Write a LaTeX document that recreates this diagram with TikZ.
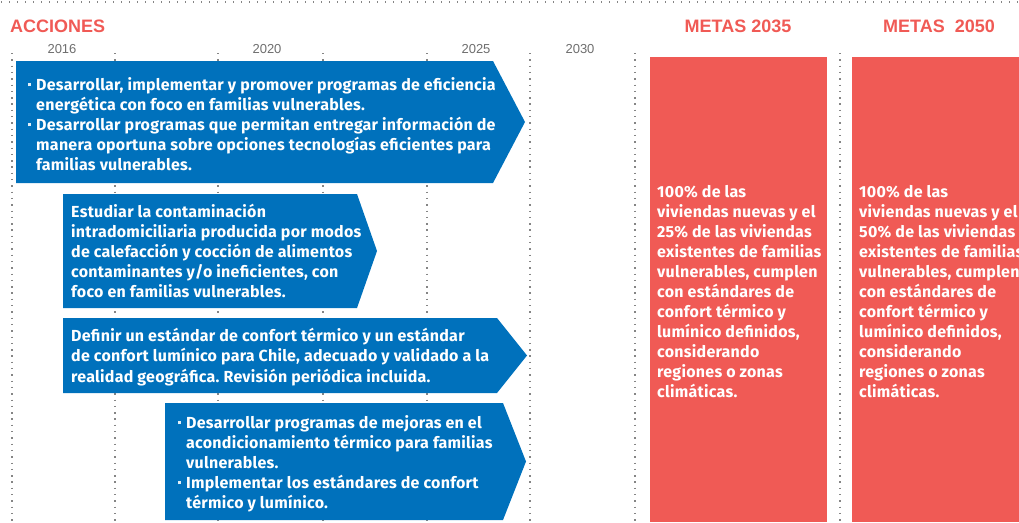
\documentclass[tikz,border=0pt]{standalone}
\usepackage{fontspec}
\setmainfont{Fira Sans}[LetterSpace=1.6]
\newfontfamily\arialf{Liberation Sans}
\definecolor{ablue}{HTML}{0071BC}
\definecolor{mred}{HTML}{F05A55}
\definecolor{ygray}{HTML}{6E6E6E}
\definecolor{dgray}{HTML}{858585}
\frenchspacing
\newcommand{\bul}{\llap{\textcolor{white!88!ablue}{\rule[3.6pt]{3pt}{3pt}}\hspace{5pt}}}
\newcommand{\blk}[1]{\vtop{\fontsize{16}{20}\selectfont\bfseries\baselineskip=20pt\lineskiplimit=-20pt #1}}
\newcommand{\lnx}[1]{\hbox{#1}}
\tikzset{
  arrowbox/.style={fill=ablue, draw=none},
  goalbox/.style={fill=mred, draw=none},
  txt/.style={anchor=base west, inner sep=0pt, text=white},
  year/.style={anchor=base, inner sep=0pt, text=ygray, font=\arialf\fontsize{13}{13}\selectfont},
  head/.style={anchor=base, inner sep=0pt, text=mred, font=\arialf\bfseries\fontsize{18}{18}\selectfont},
  vdots/.style={draw=dgray, line width=1.4pt, dash pattern=on 1.4pt off 4.9pt},
  hdots/.style={draw=dgray, line width=1.4pt, dash pattern=on 1.4pt off 6.6pt},
}
\begin{document}
\begin{tikzpicture}[x=1pt,y=-1pt]
\useasboundingbox (0,0) rectangle (1019,522);
\begin{scope}
\clip (0,0) rectangle (1019,522);
% top dotted line
\coordinate (tl) at (1,2);
\coordinate (tr) at (1019,2);
\draw[hdots] (tl) -- (tr);
% vertical dotted lines
\foreach \x/\n in {12/a,115/b,218/c,323/d,427/e,530/f,635/g,840/h}{
  \coordinate (v\n t) at (\x,53);
  \coordinate (v\n b) at (\x,522);
  \draw[vdots] (v\n t) -- (v\n b);
}
% headings
\node[head, anchor=base west] (acc) at (10,32.5) {ACCIONES};
\node[head] (m35) at (738,32.5) {METAS 2035};
\node[head] (m50) at (939,32.5) {METAS\ \ 2050};
% years
\node[year] (y16) at (62,53) {2016};
\node[year] (y20) at (267,53) {2020};
\node[year] (y25) at (476,53) {2025};
\node[year] (y30) at (580,53) {2030};
% arrows
\fill[arrowbox] (16,61) -- (493,61) -- (525,122) -- (493,183) -- (16,183) -- cycle;
\fill[arrowbox] (63,194) -- (357,194) -- (377,251) -- (357,308) -- (63,308) -- cycle;
\fill[arrowbox] (63,318) -- (497,318) -- (527,355.5) -- (497,393) -- (63,393) -- cycle;
\fill[arrowbox] (165,403) -- (503,403) -- (526,461.5) -- (503,520) -- (165,520) -- cycle;
% arrow texts
\node[txt] (t1) at (36,90) {\blk{%
\lnx{\bul Desarrollar, implementar y promover programas de eficiencia}
\lnx{energética con foco en familias vulnerables.}
\lnx{\bul Desarrollar programas que permitan entregar información de}
\lnx{manera oportuna sobre opciones tecnologías eficientes para}
\lnx{familias vulnerables.}}};
\node[txt] (t2) at (71,217) {\blk{%
\lnx{Estudiar la contaminación}
\lnx{intradomiciliaria producida por modos}
\lnx{de calefacción y cocción de alimentos}
\lnx{contaminantes y/o ineficientes, con}
\lnx{foco en familias vulnerables.}}};
\node[txt] (t3) at (71,341) {\blk{\baselineskip=20.5pt
\lnx{Definir un estándar de confort térmico y un estándar}
\lnx{de confort lumínico para Chile, adecuado y validado a la}
\lnx{realidad geográfica. Revisión periódica incluida.}}};
\node[txt] (t4) at (186,428) {\blk{%
\lnx{\bul Desarrollar programas de mejoras en el}
\lnx{acondicionamiento térmico para familias}
\lnx{vulnerables.}
\lnx{\bul Implementar los estándares de confort}
\lnx{térmico y lumínico.}}};
% goal boxes
\fill[goalbox] (650,57) rectangle (827,522);
\fill[goalbox] (852,57) rectangle (1025,522);
\node[txt] (g1) at (657,197) {\blk{%
\lnx{100\% de las}
\lnx{viviendas nuevas y el}
\lnx{25\% de las viviendas}
\lnx{existentes de familias}
\lnx{vulnerables, cumplen}
\lnx{con estándares de}
\lnx{confort térmico y}
\lnx{lumínico definidos,}
\lnx{considerando}
\lnx{regiones o zonas}
\lnx{climáticas.}}};
\node[txt] (g2) at (859,197) {\blk{%
\lnx{100\% de las}
\lnx{viviendas nuevas y el}
\lnx{50\% de las viviendas}
\lnx{existentes de familias}
\lnx{vulnerables, cumplen}
\lnx{con estándares de}
\lnx{confort térmico y}
\lnx{lumínico definidos,}
\lnx{considerando}
\lnx{regiones o zonas}
\lnx{climáticas.}}};
\end{scope}
\end{tikzpicture}
\end{document}
